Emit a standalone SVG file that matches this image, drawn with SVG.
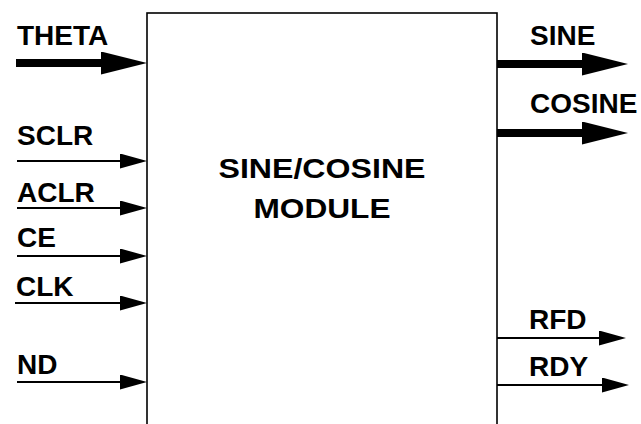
<svg xmlns="http://www.w3.org/2000/svg" width="641" height="424" viewBox="0 0 641 424">
  <style>
    .lbl { font-family: "Liberation Sans", Arial, sans-serif; font-weight: bold; font-size: 28px; fill: #000; }
    .box { fill: #fff; stroke: #000; stroke-width: 1.6; }
    .thin { stroke: #000; stroke-width: 2; fill: none; }
    .thick { stroke: #000; stroke-width: 8; fill: none; }
  </style>
  <defs>
    <marker id="headThin" markerUnits="userSpaceOnUse" markerWidth="28" markerHeight="16" refX="2" refY="7.5" orient="auto">
      <path d="M0,0 L27,7.5 L0,15 z" fill="#000"/>
    </marker>
    <marker id="headThick" markerUnits="userSpaceOnUse" markerWidth="48" markerHeight="24" refX="2" refY="11.5" orient="auto">
      <path d="M0,0 L46,11.5 L0,23 z" fill="#000"/>
    </marker>
  </defs>
  <rect width="641" height="424" fill="#fff"/>
  <g id="module">
    <rect class="box" x="147" y="13" width="350" height="430"/>
    <text class="lbl" x="322" y="178" text-anchor="middle" textLength="207" lengthAdjust="spacingAndGlyphs">SINE/COSINE</text>
    <text class="lbl" x="322" y="218" text-anchor="middle" textLength="137" lengthAdjust="spacingAndGlyphs">MODULE</text>
  </g>
  <g id="connectors">
    <path class="thick" d="M16,63 L103,63" marker-end="url(#headThick)"/>
    <path class="thin" d="M17,161 L122,161" marker-end="url(#headThin)"/>
    <path class="thin" d="M17,208 L122,208" marker-end="url(#headThin)"/>
    <path class="thin" d="M17,256 L122,256" marker-end="url(#headThin)"/>
    <path class="thin" d="M15,303 L122,303" marker-end="url(#headThin)"/>
    <path class="thin" d="M17,382 L122,382" marker-end="url(#headThin)"/>
    <path class="thick" d="M497,64 L584,64" marker-end="url(#headThick)"/>
    <path class="thick" d="M497,133 L584,133" marker-end="url(#headThick)"/>
    <path class="thin" d="M497,338 L601,338" marker-end="url(#headThin)"/>
    <path class="thin" d="M497,385 L604,385" marker-end="url(#headThin)"/>
  </g>
  <g id="theta"><text class="lbl" x="17" y="45">THETA</text></g>
  <g id="sclr"><text class="lbl" x="17" y="145">SCLR</text></g>
  <g id="aclr"><text class="lbl" x="17" y="202">ACLR</text></g>
  <g id="ce"><text class="lbl" x="17" y="247">CE</text></g>
  <g id="clk"><text class="lbl" x="16" y="296">CLK</text></g>
  <g id="nd"><text class="lbl" x="17" y="374">ND</text></g>
  <g id="sine"><text class="lbl" x="530" y="45">SINE</text></g>
  <g id="cosine"><text class="lbl" x="530" y="113">COSINE</text></g>
  <g id="rfd"><text class="lbl" x="529" y="329">RFD</text></g>
  <g id="rdy"><text class="lbl" x="529" y="376">RDY</text></g>
</svg>
